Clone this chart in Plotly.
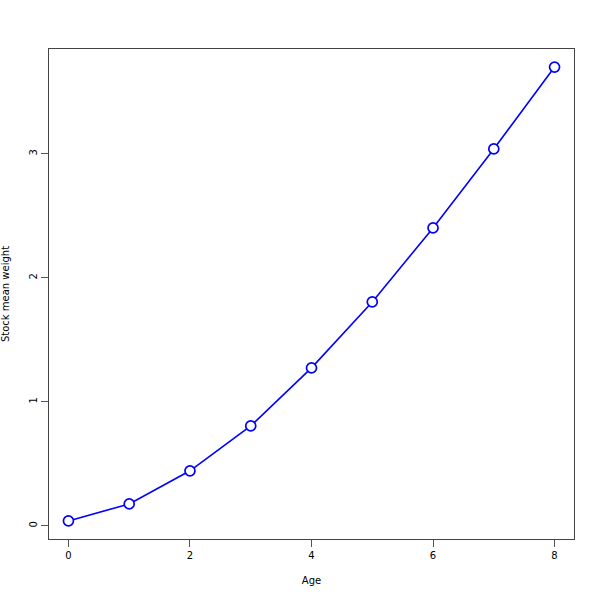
import plotly.graph_objects as go

ages = [0, 1, 2, 3, 4, 5, 6, 7, 8]
weights = [0.04, 0.177, 0.444, 0.806, 1.274, 1.806, 2.403, 3.04, 3.70]

fig = go.Figure()
fig.add_trace(go.Scatter(
    x=ages, y=weights, mode="lines+markers",
    line=dict(color="#0000ff", width=1.6),
    marker=dict(symbol="circle", size=10, color="white",
                line=dict(color="#0000ff", width=1.7)),
    showlegend=False,
))

font = dict(family="DejaVu Sans, Open Sans, sans-serif", size=10, color="black")
fig.update_layout(
    width=600, height=600,
    paper_bgcolor="white", plot_bgcolor="white",
    margin=dict(l=49, r=26, t=49, b=61),
    font=font,
)
fig.update_xaxes(
    range=[-0.32, 8.32], tickvals=[0, 2, 4, 6, 8], ticks="outside", ticklen=7,
    tickcolor="#555", automargin=False,
    showline=True, linecolor="#444", linewidth=1, mirror=True, showgrid=False,
    zeroline=False, title=dict(text="Age", standoff=16, font=font), tickfont=font,
)
fig.update_yaxes(
    range=[-0.106, 3.846], tickvals=[0, 1, 2, 3], ticks="outside", ticklen=7,
    tickcolor="#555", tickangle=-90, automargin=False,
    showline=True, linecolor="#444", linewidth=1, mirror=True, showgrid=False,
    zeroline=False, title=dict(text="Stock mean weight", standoff=16, font=font),
    tickfont=font,
)
fig.write_html("out.html", config={"displayModeBar": False},
               post_script="document.body.style.margin='0';")
